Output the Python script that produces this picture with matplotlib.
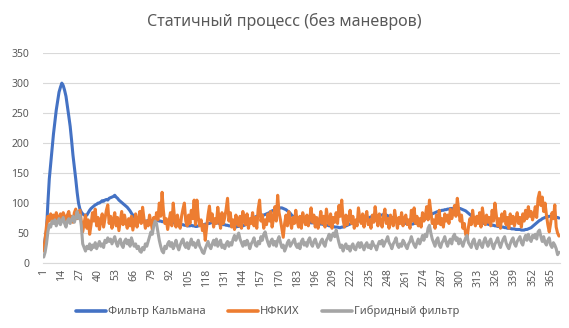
import matplotlib
matplotlib.use("Agg")
import matplotlib.pyplot as plt
import numpy as np

plt.rcParams['font.family'] = ['Noto Sans', 'DejaVu Sans']

title = "Статичный процесс (без маневров)"
series_names = ["Фильтр Кальмана", "НФКИХ", "Гибридный фильтр"]
colors = ["#4472C4", "#ED7D31", "#A5A5A5"]

kalman = [
    25, 40, 55, 100, 140, 165, 190, 215, 235, 255,
    270, 285, 293, 300, 296, 288, 278, 262, 245, 228,
    205, 180, 160, 140, 118, 100, 90, 85, 82, 80,
    80, 80, 84, 88, 91, 93, 95, 97, 98, 100,
    100, 102, 104, 103, 105, 106, 105, 108, 109, 110,
    111, 113, 110, 108, 105, 103, 101, 99, 97, 95,
    93, 90, 87, 83, 80, 77, 74, 72, 71, 70,
    70, 69, 69, 70, 70, 71, 72, 71, 70, 70,
    71, 72, 71, 70, 70, 69, 69, 70, 71, 70,
    69, 68, 68, 67, 67, 66, 66, 65, 65, 64,
    64, 63, 63, 62, 62, 62, 63, 62, 62, 61,
    61, 62, 63, 63, 64, 64, 65, 65, 66, 66,
    67, 68, 68, 68, 67, 67, 66, 65, 65, 64,
    64, 63, 63, 62, 62, 61, 61, 60, 60, 61,
    61, 62, 62, 62, 63, 64, 66, 68, 70, 72,
    74, 76, 77, 78, 79, 80, 80, 80, 80, 81,
    82, 83, 84, 86, 87, 88, 89, 90, 91, 91,
    92, 92, 91, 90, 89, 87, 85, 83, 80, 78,
    76, 74, 73, 72, 71, 70, 70, 69, 69, 68,
    68, 68, 67, 67, 67, 66, 66, 66, 65, 65,
    65, 64, 64, 63, 63, 62, 62, 61, 61, 60,
    60, 60, 59, 59, 60, 60, 61, 62, 63, 64,
    65, 66, 67, 68, 69, 70, 70, 71, 72, 72,
    73, 74, 75, 75, 76, 77, 77, 78, 78, 79,
    79, 80, 80, 80, 81, 81, 80, 79, 78, 77,
    76, 75, 74, 72, 71, 70, 69, 68, 67, 67,
    66, 66, 66, 65, 65, 65, 66, 66, 67, 68,
    69, 70, 71, 72, 74, 75, 77, 79, 80, 82,
    83, 84, 85, 86, 86, 87, 88, 88, 89, 89,
    90, 90, 91, 91, 91, 92, 92, 92, 91, 91,
    90, 89, 88, 87, 85, 83, 81, 79, 77, 75,
    73, 71, 70, 69, 68, 67, 66, 66, 65, 65,
    64, 64, 63, 63, 62, 62, 61, 61, 60, 60,
    60, 59, 59, 58, 58, 58, 57, 57, 57, 56,
    56, 56, 56, 55, 55, 55, 56, 56, 57, 58,
    59, 61, 63, 65, 67, 69, 71, 72, 74, 75,
    76, 77, 77, 78, 78, 78, 77, 77, 76, 76,
    75,
]

nfkih = [
    20, 40, 62, 78, 70, 82, 74, 80, 68, 84,
    76, 70, 82, 72, 84, 78, 66, 80, 86, 72,
    78, 68, 84, 90, 74, 82, 88, 70, 52, 66,
    80, 58, 72, 48, 64, 84, 70, 90, 62, 76,
    56, 70, 82, 60, 74, 88, 97, 66, 78, 58,
    72, 84, 62, 76, 54, 70, 86, 64, 80, 68,
    58, 74, 62, 78, 55, 68, 82, 60, 72, 86,
    66, 93, 74, 58, 70, 62, 80, 68, 56, 76,
    64, 84, 72, 100, 78, 118, 86, 66, 74, 56,
    70, 84, 62, 100, 74, 60, 80, 66, 58, 78,
    90, 100, 70, 62, 80, 66, 88, 74, 105, 64,
    105, 76, 62, 72, 54, 64, 38, 60, 80, 95,
    70, 82, 60, 74, 66, 93, 72, 58, 84, 66,
    76, 90, 108, 70, 84, 60, 72, 56, 80, 68,
    62, 78, 58, 86, 70, 64, 82, 58, 74, 66,
    84, 62, 76, 58, 90, 105, 70, 80, 58, 72,
    64, 82, 70, 86, 60, 74, 94, 70, 113, 84,
    72, 58, 43, 66, 80, 62, 86, 70, 58, 76,
    66, 88, 70, 60, 78, 58, 84, 72, 64, 80,
    62, 74, 92, 68, 80, 60, 76, 58, 70, 86,
    66, 78, 60, 90, 72, 64, 82, 58, 76, 68,
    84, 66, 96, 78, 105, 72, 60, 80, 64, 74,
    88, 66, 78, 58, 72, 62, 92, 74, 66, 82,
    60, 76, 86, 64, 72, 58, 80, 68, 94, 74,
    62, 82, 70, 60, 78, 90, 66, 74, 58, 80,
    70, 62, 88, 72, 58, 76, 66, 84, 62, 74,
    80, 64, 72, 58, 88, 70, 92, 66, 78, 62,
    74, 60, 84, 70, 78, 94, 72, 105, 86, 66,
    72, 58, 80, 66, 88, 64, 74, 60, 82, 70,
    80, 66, 90, 74, 84, 96, 78, 108, 88, 70,
    80, 58, 66, 48, 42, 60, 74, 64, 88, 70,
    62, 78, 66, 84, 60, 92, 74, 64, 80, 68,
    76, 62, 88, 70, 100, 80, 62, 74, 58, 82,
    70, 86, 64, 76, 58, 82, 66, 78, 62, 72,
    84, 66, 76, 60, 82, 70, 88, 74, 94, 78,
    86, 72, 80, 94, 76, 108, 118, 96, 110, 86,
    100, 80, 64, 52, 66, 84, 74, 97, 60, 50,
    45,
]

hybrid = [
    10, 18, 32, 52, 64, 60, 70, 66, 72, 62,
    68, 74, 64, 70, 76, 66, 60, 70, 74, 66,
    72, 78, 68, 76, 86, 74, 80, 62, 32, 26,
    20, 28, 24, 32, 22, 30, 26, 34, 24, 30,
    36, 28, 32, 26, 38, 34, 42, 36, 40, 32,
    38, 44, 34, 28, 36, 40, 30, 26, 36, 40,
    32, 38, 28, 42, 34, 28, 32, 24, 28, 20,
    18, 26, 22, 32, 28, 36, 44, 52, 48, 62,
    70, 66, 52, 38, 28, 20, 17, 28, 24, 32,
    36, 28, 34, 24, 30, 38, 28, 22, 30, 36,
    40, 30, 26, 34, 24, 32, 40, 30, 34, 26,
    32, 38, 28, 24, 18, 16, 24, 30, 36, 28,
    24, 32, 38, 30, 40, 28, 34, 38, 26, 30,
    24, 32, 36, 28, 34, 30, 40, 46, 38, 44,
    50, 40, 34, 28, 36, 30, 38, 32, 24, 32,
    36, 42, 30, 28, 36, 32, 44, 38, 48, 52,
    42, 34, 28, 36, 40, 30, 36, 28, 38, 44,
    34, 26, 30, 20, 26, 34, 38, 28, 32, 36,
    40, 30, 26, 32, 24, 36, 40, 30, 34, 28,
    38, 42, 32, 28, 36, 40, 32, 26, 30, 36,
    40, 32, 28, 38, 42, 48, 38, 46, 50, 44,
    55, 44, 34, 26, 30, 20, 28, 32, 24, 28,
    20, 28, 32, 24, 22, 30, 34, 26, 34, 28,
    22, 30, 34, 26, 30, 24, 36, 30, 28, 22,
    30, 36, 32, 38, 28, 34, 38, 44, 34, 30,
    24, 32, 36, 42, 30, 26, 32, 28, 38, 34,
    28, 24, 32, 36, 44, 36, 30, 26, 34, 40,
    32, 38, 46, 38, 48, 44, 58, 63, 50, 40,
    34, 28, 38, 42, 30, 26, 34, 38, 44, 34,
    28, 36, 40, 32, 44, 48, 38, 42, 32, 40,
    34, 28, 36, 42, 46, 34, 30, 26, 36, 40,
    30, 24, 32, 38, 30, 26, 36, 42, 34, 28,
    36, 40, 30, 24, 32, 36, 42, 32, 26, 34,
    40, 44, 34, 28, 24, 32, 38, 42, 32, 28,
    36, 40, 44, 34, 30, 40, 46, 38, 48, 40,
    36, 46, 42, 48, 40, 52, 55, 44, 36, 44,
    34, 30, 38, 42, 30, 26, 34, 30, 24, 14,
    18,
]

y_ticks = [0, 50, 100, 150, 200, 250, 300, 350]

assert len(kalman) == len(nfkih) == len(hybrid), (len(kalman), len(nfkih), len(hybrid))
n = len(kalman)
x = np.arange(1, n + 1)
x_ticks = list(range(1, n + 1, 13))

fig = plt.figure(figsize=(5.69, 3.28), dpi=100)
ax = fig.add_axes([0.0756, 0.198, 0.908, 0.640])

for vals, name, c in zip([kalman, nfkih, hybrid], series_names, colors):
    ax.plot(x, vals, color=c, lw=2.2, label=name,
            solid_joinstyle='round', solid_capstyle='round')

ax.set_xlim(0.5, n + 0.5)
ax.set_ylim(0, 350)
ax.set_yticks(y_ticks)
ax.set_xticks(x_ticks)
ax.set_xticklabels([str(t) for t in x_ticks], rotation=90)
ax.tick_params(axis='both', length=0, labelsize=7.5, colors='#595959')
ax.tick_params(axis='y', pad=10)
ax.tick_params(axis='x', pad=4)
ax.grid(axis='y', color='#D9D9D9', lw=0.8)
ax.set_axisbelow(True)
for s in ['top', 'right', 'left']:
    ax.spines[s].set_visible(False)
ax.spines['bottom'].set_color('#D9D9D9')
ax.spines['bottom'].set_linewidth(0.8)

fig.text(0.5, 0.935, title, ha='center', va='center', fontsize=11.5, color='#595959')

handles, labels = ax.get_legend_handles_labels()
leg = fig.legend(handles, labels, loc='center', bbox_to_anchor=(0.47, 0.05), ncol=3,
                 frameon=False, fontsize=8, handlelength=2.7, handletextpad=0.2,
                 columnspacing=2.0, labelcolor='#595959')
for line in leg.get_lines():
    line.set_linewidth(2.6)

fig.savefig("out.png", dpi=100)
